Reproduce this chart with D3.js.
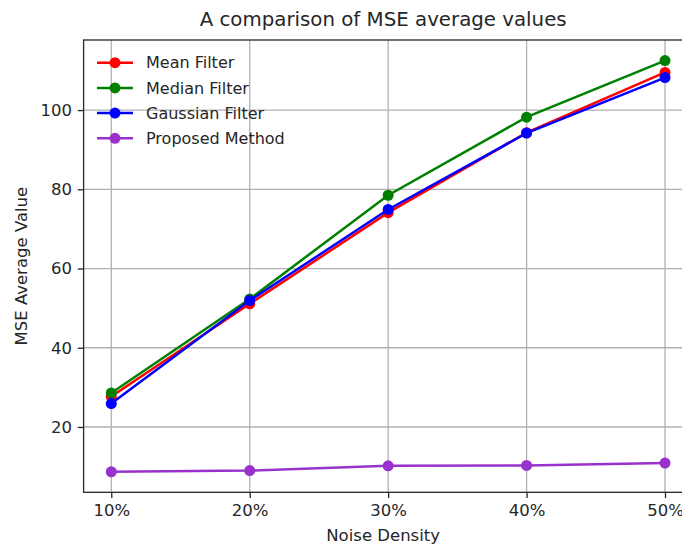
<!DOCTYPE html>
<html lang="en">
<head>
    <meta charset="UTF-8">
    <title>MSE comparison</title>
    <script src="https://cdn.jsdelivr.net/npm/d3@7"></script>
    <style>
        body { margin: 0; background: #fff; }
        svg text { font-family: "DejaVu Sans", sans-serif; fill: #262626; }
    </style>
</head>
<body>
    <svg width="682" height="548"></svg>
    <script>
        const categories = ['10%', '20%', '30%', '40%', '50%'];
        const meanFilter = [27.7, 51.1, 74.1, 94.3, 109.5];
        const medianFilter = [28.6, 52.3, 78.5, 98.2, 112.5];
        const gaussianFilter = [25.9, 51.9, 74.9, 94.2, 108.2];
        const proposedMethod = [8.7, 9.0, 10.2, 10.3, 10.9];
        const yTicks = [20, 40, 60, 80, 100];

        const series = [
            { name: 'Mean Filter', values: meanFilter, color: '#ff0000' },
            { name: 'Median Filter', values: medianFilter, color: '#008000' },
            { name: 'Gaussian Filter', values: gaussianFilter, color: '#0000ff' },
            { name: 'Proposed Method', values: proposedMethod, color: '#9932cc' }
        ];

        const plotL = 83.6, plotR = 692.7, plotT = 40, plotB = 492.3;
        const svg = d3.select('svg');

        const x = d3.scaleLinear().domain([-0.2, categories.length - 1 + 0.2]).range([plotL, plotR]);
        const allVals = series.flatMap(s => s.values);
        const lo = d3.min(allVals), hi = d3.max(allVals), pad = (hi - lo) * 0.05;
        const y = d3.scaleLinear().domain([lo - pad, hi + pad]).range([plotB, plotT]);

        // grid
        svg.append('g').selectAll('line').data(categories).enter().append('line')
            .attr('x1', (d, i) => x(i)).attr('x2', (d, i) => x(i))
            .attr('y1', plotT).attr('y2', plotB)
            .attr('stroke', '#b0b0b0').attr('stroke-width', 1.3);
        svg.append('g').selectAll('line').data(yTicks).enter().append('line')
            .attr('x1', plotL).attr('x2', plotR)
            .attr('y1', d => y(d)).attr('y2', d => y(d))
            .attr('stroke', '#b0b0b0').attr('stroke-width', 1.3);

        // axes
        const xAxis = d3.axisBottom(x).tickValues(d3.range(categories.length))
            .tickFormat(i => categories[i]).tickSize(5.8).tickPadding(5.8);
        const gx = svg.append('g').attr('transform', `translate(0,${plotB})`).call(xAxis);
        const yAxis = d3.axisLeft(y).tickValues(yTicks).tickSize(5.8).tickPadding(5.8);
        const gy = svg.append('g').attr('transform', `translate(${plotL},0)`).call(yAxis);
        [gx, gy].forEach(g => {
            g.select('.domain').remove();
            g.selectAll('line').attr('stroke', '#262626').attr('stroke-width', 1.3);
            g.selectAll('text').attr('font-size', 16.5).attr('font-family', '"DejaVu Sans", sans-serif').attr('fill', '#262626');
        });

        // series
        const line = d3.line().x((d, i) => x(i)).y(d => y(d));
        series.forEach(s => {
            const g = svg.append('g');
            g.append('path').datum(s.values).attr('d', line)
                .attr('fill', 'none').attr('stroke', s.color).attr('stroke-width', 2.5);
            g.selectAll('circle').data(s.values).enter().append('circle')
                .attr('cx', (d, i) => x(i)).attr('cy', d => y(d)).attr('r', 5.5)
                .attr('fill', s.color);
        });

        // frame
        svg.append('rect').attr('x', plotL).attr('y', plotT)
            .attr('width', plotR - plotL).attr('height', plotB - plotT)
            .attr('fill', 'none').attr('stroke', '#262626').attr('stroke-width', 1.3);

        // legend
        const legend = svg.append('g');
        series.forEach((s, i) => {
            const ly = 62.7 + i * 25.2;
            legend.append('line').attr('x1', 97).attr('x2', 133).attr('y1', ly).attr('y2', ly)
                .attr('stroke', s.color).attr('stroke-width', 2.5);
            legend.append('circle').attr('cx', 115).attr('cy', ly).attr('r', 5.5).attr('fill', s.color);
            legend.append('text').attr('x', 146).attr('y', ly).attr('dy', '0.35em')
                .attr('font-size', 16).text(s.name);
        });

        // titles
        svg.append('text').attr('x', (plotL + plotR) / 2 - 5).attr('y', 26)
            .attr('text-anchor', 'middle').attr('font-size', 19.8)
            .text('A comparison of MSE average values');
        svg.append('text').attr('x', (plotL + plotR) / 2 - 5).attr('y', 541)
            .attr('text-anchor', 'middle').attr('font-size', 16.5).text('Noise Density');
        svg.append('text').attr('transform', `translate(27,${(plotT + plotB) / 2}) rotate(-90)`)
            .attr('text-anchor', 'middle').attr('font-size', 16.5).text('MSE Average Value');
    </script>
</body>
</html>
